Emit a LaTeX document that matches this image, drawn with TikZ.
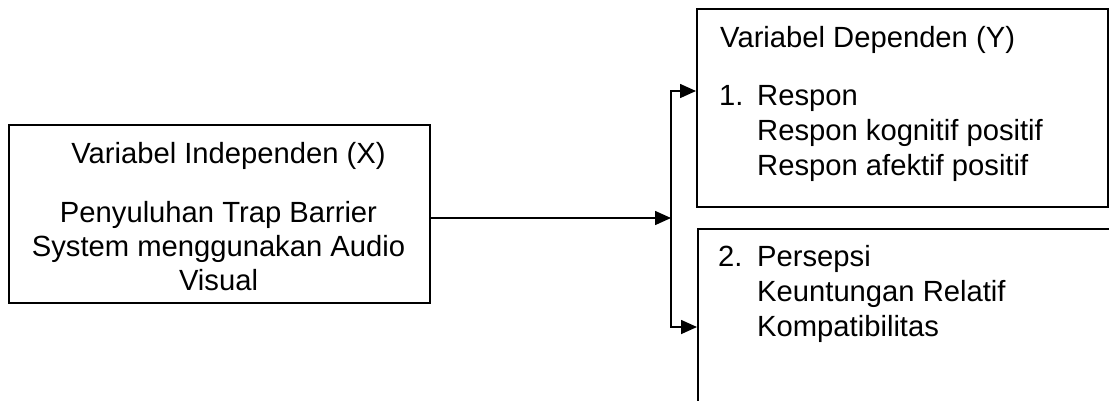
\documentclass[tikz,border=0pt]{standalone}
\usepackage{fontspec}
\setmainfont{Liberation Sans}
\usetikzlibrary{arrows.meta}
\begin{document}
\begin{tikzpicture}[x=1pt,y=-1pt,
  box/.style={draw, line width=1.8pt, inner sep=0pt, anchor=north west},
  txt/.style={inner sep=0pt, anchor=base west, font=\fontsize{29.2}{35}\selectfont},
  ctxt/.style={txt, anchor=base},
  link/.style={line width=1.6pt, line join=miter},
  arr/.style={link, -{Triangle[length=16pt,width=14pt]}}]
\clip (0,0) rectangle (1109,400);
% boxes
\node[box, minimum width=421pt, minimum height=178pt] (boxX) at (8,124) {};
\node[box, minimum width=411pt, minimum height=198pt] (boxY) at (696,8) {};
\node[box, minimum width=430pt, minimum height=200pt] (boxP) at (697,228) {};
% texts of box X
\node[ctxt] (xt) at (228.5,163) {Variabel Independen (X)};
\node[ctxt] (x1) at (218.5,222) {Penyuluhan Trap Barrier};
\node[ctxt] (x2) at (218.5,256) {System menggunakan Audio};
\node[ctxt] (x3) at (218.5,290) {Visual};
% texts of box Y
\node[txt] (yt) at (720,47) {Variabel Dependen (Y)};
\node[txt] (yn) at (719,105) {1.};
\node[txt] (y1) at (757,105) {Respon};
\node[txt] (y2) at (757,140) {Respon kognitif positif};
\node[txt] (y3) at (757,175) {Respon afektif positif};
% texts of box P
\node[txt] (pn) at (718,266) {2.};
\node[txt] (p1) at (757,266) {Persepsi};
\node[txt] (p2) at (757,301) {Keuntungan Relatif};
\node[txt] (p3) at (757,336) {Kompatibilitas};
% connectors
\coordinate (j) at (671,218);
\coordinate (jt) at (671,91);
\coordinate (jb) at (671,327);
\draw[arr] (boxX.east |- j) -- (j);
\draw[arr] (jb) -- (jt) -- (boxY.west |- jt);
\draw[arr] (jt) -- (jb) -- (boxP.west |- jb);
\end{tikzpicture}
\end{document}
